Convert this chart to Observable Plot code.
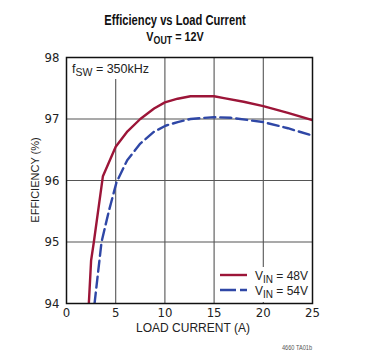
<!DOCTYPE html>
<html><head><meta charset="utf-8">
<script src="https://cdn.jsdelivr.net/npm/d3@7"></script>
<script src="https://cdn.jsdelivr.net/npm/@observablehq/plot@0.6"></script>
<style>body{margin:0;background:#fff;} svg{display:block}</style>
</head><body><div id="chart"></div>
<script>
// ---- data ----
const xTicks = [0, 5, 10, 15, 20, 25];
const yTicks = [94, 95, 96, 97, 98];
const title = "Efficiency vs Load Current";
const xLabel = "LOAD CURRENT (A)";
const yLabel = "EFFICIENCY (%)";
const seriesLabels = ["48V", "54V"];
const load48 = [2.27, 2.5, 2.78, 3.7, 5.0, 6.2, 7.5, 8.9, 10.0, 11.3, 12.6, 15.0, 16.0, 18.0, 20.0, 22.5, 25.0];
const eff48  = [94.0, 94.7, 95.0, 96.07, 96.55, 96.8, 97.0, 97.17, 97.27, 97.33, 97.37, 97.37, 97.34, 97.28, 97.21, 97.1, 96.98];
const load54 = [2.85, 3.56, 4.3, 5.08, 6.17, 7.5, 8.87, 10.06, 11.3, 12.6, 15.0, 16.7, 20.0, 22.5, 25.0];
const eff54  = [94.0, 95.0, 95.5, 95.97, 96.33, 96.6, 96.79, 96.89, 96.95, 97.0, 97.03, 97.02, 96.95, 96.85, 96.73];

const red = "#9c1538", blue = "#2f47a6";
const d48 = load48.map((x, i) => ({x, y: eff48[i]}));
const d54 = load54.map((x, i) => ({x, y: eff54[i]}));
const tickFont = "'Liberation Sans Narrow', 'DejaVu Sans Condensed', 'Liberation Sans', sans-serif";

const plot = Plot.plot({
  width: 389, height: 356,
  marginTop: 57, marginBottom: 53, marginLeft: 66, marginRight: 77,
  style: {fontFamily: tickFont, background: "#fff", color: "#222"},
  x: {domain: [0, 25], label: null},
  y: {domain: [94, 98], label: null},
  marks: [
    Plot.ruleX(xTicks.slice(1, -1), {stroke: "#555", strokeWidth: 1.1}),
    Plot.ruleY(yTicks.slice(1, -1), {stroke: "#555", strokeWidth: 1.1}),
    Plot.axisX({ticks: xTicks, tickSize: 0, tickPadding: 4, fontSize: 13, tickFormat: "d", label: null}),
    Plot.axisY({ticks: yTicks, tickSize: 0, tickPadding: 7, fontSize: 13, tickFormat: "d", label: null}),
    Plot.line(d48, {x: "x", y: "y", stroke: red, strokeWidth: 2.4, clip: true}),
    Plot.line(d54, {x: "x", y: "y", stroke: blue, strokeWidth: 2.4, strokeDasharray: "11,5", clip: true}),
    Plot.frame({stroke: "#111", strokeWidth: 1.5})
  ]
});
document.getElementById("chart").appendChild(plot);

const svg = d3.select(plot);
const frameNode = plot.querySelector("[aria-label=frame]");
const L = 66, T = 57, R = 389 - 77, B = 356 - 53;
const sans = "'Liberation Sans', Arial, sans-serif";

// fSW annotation with white box
const ann = svg.insert("g", () => frameNode).attr("text-anchor", "start");
ann.append("rect").attr("x", L + 1).attr("y", T + 1).attr("width", 82).attr("height", 21).attr("fill", "#fff");
const ft = ann.append("text").attr("x", L + 6).attr("y", T + 16).attr("font-family", sans).attr("font-size", 12.5).attr("fill", "#222");
ft.append("tspan").text("f");
ft.append("tspan").attr("font-size", 10.5).attr("dy", 3).text("SW");
ft.append("tspan").attr("dy", -3).text(" = 350kHz");

// legend
const leg = svg.insert("g", () => frameNode).attr("text-anchor", "start");
leg.append("rect").attr("x", R - 96).attr("y", B - 36).attr("width", 95).attr("height", 35).attr("fill", "#fff");
[[red, null, B - 28, seriesLabels[0]], [blue, "16,4", B - 13, seriesLabels[1]]].forEach(([c, dash, yy, lab]) => {
  const ln = leg.append("line").attr("x1", R - 92).attr("x2", R - 65).attr("y1", yy).attr("y2", yy)
    .attr("stroke", c).attr("stroke-width", 2.4);
  if (dash) ln.attr("stroke-dasharray", dash);
  const t = leg.append("text").attr("x", R - 57).attr("y", yy + 4.5).attr("font-family", sans).attr("font-size", 12).attr("fill", "#222");
  t.append("tspan").text("V");
  t.append("tspan").attr("font-size", 10).attr("dy", 3).text("IN");
  t.append("tspan").attr("dy", -3).text(" = " + lab);
});

// title
const tt = svg.append("g").attr("font-family", "'Liberation Sans', sans-serif").attr("font-weight", "bold").attr("fill", "#111");
tt.append("text").attr("transform", "translate(175,25) scale(0.72,1)").attr("text-anchor", "middle").attr("font-size", 15.5).text(title);
const t2 = tt.append("text").attr("transform", "translate(175,40.5) scale(0.8,1)").attr("text-anchor", "middle").attr("font-size", 13.5);
t2.append("tspan").text("V");
t2.append("tspan").attr("font-size", 11).attr("dy", 3).text("OUT");
t2.append("tspan").attr("dy", -3).text(" = 12V");

// axis labels
svg.append("text").attr("x", 193).attr("y", 332).attr("text-anchor", "middle").attr("font-family", sans).attr("font-size", 12).attr("fill", "#222").text(xLabel);
svg.append("text").attr("transform", "translate(39,180) rotate(-90)").attr("text-anchor", "middle").attr("font-family", sans).attr("font-size", 11).attr("fill", "#222").text(yLabel);
// figure code
svg.append("text").attr("transform", "translate(312,350) scale(0.75,1)").attr("text-anchor", "end").attr("font-family", sans).attr("font-size", 7.5).attr("fill", "#555").text("4660 TA01b");
</script></body></html>
